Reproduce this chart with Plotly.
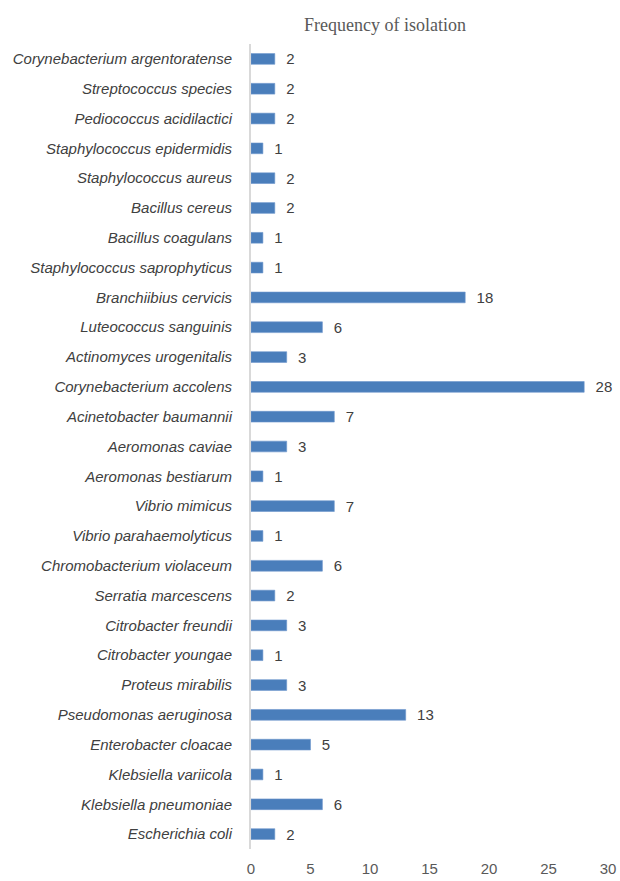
import plotly.graph_objects as go

species = [
    "Corynebacterium argentoratense", "Streptococcus species", "Pediococcus acidilactici",
    "Staphylococcus epidermidis", "Staphylococcus aureus", "Bacillus cereus",
    "Bacillus coagulans", "Staphylococcus saprophyticus", "Branchiibius cervicis",
    "Luteococcus sanguinis", "Actinomyces urogenitalis", "Corynebacterium accolens",
    "Acinetobacter baumannii", "Aeromonas caviae", "Aeromonas bestiarum",
    "Vibrio mimicus", "Vibrio parahaemolyticus", "Chromobacterium violaceum",
    "Serratia marcescens", "Citrobacter freundii", "Citrobacter youngae",
    "Proteus mirabilis", "Pseudomonas aeruginosa", "Enterobacter cloacae",
    "Klebsiella variicola", "Klebsiella pneumoniae", "Escherichia coli",
]
counts = [2, 2, 2, 1, 2, 2, 1, 1, 18, 6, 3, 28, 7, 3, 1, 7, 1, 6, 2, 3, 1, 3, 13, 5, 1, 6, 2]
x_ticks = [0, 5, 10, 15, 20, 25, 30]

fig = go.Figure(go.Bar(
    x=counts, y=species, orientation="h",
    marker=dict(color="#4a7ebb", line=dict(color="#6f97cc", width=0.6)),
    width=0.36,
    text=["  " + str(c) for c in counts], textposition="outside",
    textfont=dict(family="Liberation Sans, Arial, sans-serif", size=15, color="#404040"),
    constraintext="none",
    cliponaxis=False,
))

fig.update_layout(
    width=620, height=881,
    margin=dict(l=251, r=12, t=44, b=32, autoexpand=False),
    paper_bgcolor="white", plot_bgcolor="white",
    showlegend=False,
    title=dict(text="Frequency of isolation", x=385/620, xref="container", xanchor="center",
               y=1-25/881, yref="container", yanchor="middle",
               font=dict(family="Liberation Serif, Times New Roman, serif", size=18, color="#595959")),
    xaxis=dict(range=[0, 30], tickvals=x_ticks, showgrid=False, zeroline=False, showline=False,
               tickfont=dict(family="Liberation Sans, Arial, sans-serif", size=15, color="#595959"),
               ticklabelstandoff=9, automargin=False, fixedrange=True),
    yaxis=dict(autorange="reversed", showgrid=False, zeroline=False,
               showline=True, linecolor="#d9d9d9", linewidth=2,
               tickfont=dict(family="Liberation Sans, Arial, sans-serif", size=15, color="#404040", style="italic"),
               ticklabelstandoff=14, automargin=False),
    bargap=0.64,
)

fig.write_html("out.html")
